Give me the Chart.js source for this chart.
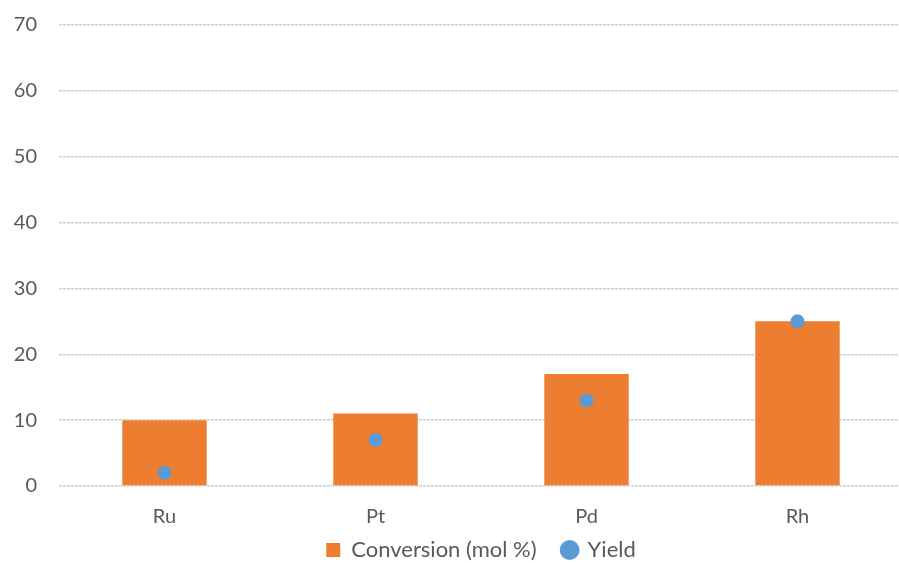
<!DOCTYPE html>
<html>
<head>
<meta charset="utf-8">
<script src="https://cdn.jsdelivr.net/npm/chart.js@4/dist/chart.umd.min.js"></script>
<style>
  html, body { margin: 0; padding: 0; background: #fff; overflow: hidden; }
  #wrap { width: 910px; height: 563px; }
</style>
</head>
<body>
<div id="wrap"><canvas id="myChart"></canvas></div>
<script>
const catalysts = ["Ru", "Pt", "Pd", "Rh"];
const conversion = [10, 11, 17, 25];
const yieldVals = [2, 7, 13, 25];
const yTicks = [0, 10, 20, 30, 40, 50, 60, 70];

const textColor = "#595959";
const fontFamily = "Lato, 'Liberation Sans', sans-serif";

// the built-in legend puts the same padding above the items as between them,
// so shorten its box and draw it from a bit higher up
const legendHeight = {
  id: "legendHeight",
  afterInit(chart) {
    const legend = chart.legend;
    const fit = legend.fit;
    const draw = legend.draw;
    legend.fit = function () {
      fit.call(this);
      this.height = 40;
    };
    legend.draw = function () {
      const top = this.top;
      this.top = top - 10;
      draw.call(this);
      this.top = top;
    };
  }
};

const ctx = document.getElementById("myChart");

let myChart = new Chart(ctx, {
  type: "bar",
  data: {
    labels: catalysts,
    datasets: [
      {
        label: "Conversion (mol %)",
        data: conversion,
        backgroundColor: "#ED7D31",
        borderWidth: 0,
        barPercentage: 0.4,
        categoryPercentage: 1,
        pointStyle: "rect",
        order: 2
      },
      {
        type: "line",
        label: "Yield",
        data: yieldVals,
        showLine: false,
        backgroundColor: "#5B9BD5",
        borderColor: "#5B9BD5",
        pointRadius: 7,
        pointHoverRadius: 7,
        pointBorderWidth: 0,
        pointStyle: "circle",
        order: 1
      }
    ]
  },
  options: {
    responsive: true,
    maintainAspectRatio: false,
    animation: false,
    layout: { padding: { top: 25, right: 0, bottom: 0, left: 0 } },
    scales: {
      x: {
        afterFit: (scale) => { scale.height = 37; },
        grid: { display: false },
        border: { display: false },
        ticks: { color: textColor, font: { family: fontFamily, size: 20 }, padding: 11 }
      },
      y: {
        min: 0,
        max: 70,
        afterFit: (scale) => {
          scale.width = 59;
          scale.paddingTop = 0;
          scale.paddingBottom = 0;
        },
        afterBuildTicks: (scale) => { scale.ticks = yTicks.map((v) => ({ value: v })); },
        grid: { color: "#cccccc", lineWidth: 1.5, drawTicks: false },
        border: { display: false, dash: [3, 1] },
        ticks: { color: textColor, font: { family: fontFamily, size: 20 }, padding: 22 }
      }
    },
    plugins: {
      tooltip: { enabled: false },
      legend: {
        position: "bottom",
        fullSize: false,
        labels: {
          color: textColor,
          font: { family: fontFamily, size: 22 },
          usePointStyle: true,
          boxWidth: 14,
          boxHeight: 14,
          padding: 26,
          sort: (a, b) => a.datasetIndex - b.datasetIndex
        }
      }
    }
  },
  plugins: [legendHeight]
});
</script>
</body>
</html>
